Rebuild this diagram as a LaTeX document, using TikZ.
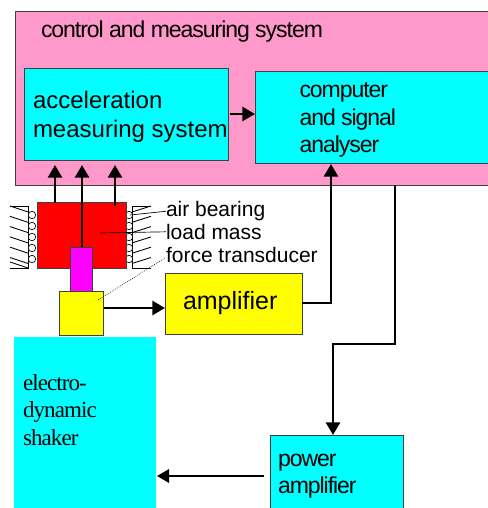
\documentclass[tikz,border=0pt]{standalone}
\usepackage{fontspec}
\setmainfont{Liberation Sans}
\newfontfamily\tightfont[LetterSpace=-4.5]{Liberation Sans}
\newfontfamily\serifface[LetterSpace=-4]{Liberation Serif}
\usetikzlibrary{arrows.meta}
\definecolor{pinkfill}{RGB}{255,153,204}
\definecolor{cyanfill}{RGB}{0,255,255}
\definecolor{yellowfill}{RGB}{255,255,0}
\definecolor{redfill}{RGB}{255,0,0}
\definecolor{magentafill}{RGB}{255,0,255}
\newcommand{\pxfont}[1]{\fontsize{\the\dimexpr #1pt*3/4\relax}{#1pt}\selectfont}
\begin{document}
\begin{tikzpicture}[x=0.75pt,y=-0.75pt,
  blockbox/.style={draw=black!75,line width=0.7pt,anchor=north west,inner sep=0pt,outer sep=0pt},
  flat/.style={anchor=north west,inner sep=0pt,outer sep=0pt},
  lab/.style={anchor=base west,inner sep=0pt,outer sep=0pt,align=left,text=black},
  arr/.style={line width=2.1pt,draw=black,-{Triangle[length=9.5pt,width=10.5pt]}},
  arrthin/.style={line width=1.7pt,draw=black,-{Triangle[length=9pt,width=10pt]}},
  leader/.style={line width=0.5pt,draw=black},
  hatch/.style={line width=0.65pt,draw=black},
  roller/.style={circle,draw=black,line width=0.5pt,fill=white,minimum size=5.6pt,inner sep=0pt}]
\useasboundingbox (0,0) rectangle (488,508);
\fill[white] (0,0) rectangle (488,508);

% main blocks
\node[blockbox,fill=pinkfill,minimum width=473*0.75pt,minimum height=174*0.75pt] (ctrl) at (15,11) {};
\node[blockbox,fill=cyanfill,minimum width=204*0.75pt,minimum height=92*0.75pt] (acc) at (24,68) {};
\node[blockbox,fill=cyanfill,minimum width=233*0.75pt,minimum height=92*0.75pt] (comp) at (255,71) {};
\node[flat,fill=cyanfill,minimum width=142*0.75pt,minimum height=171*0.75pt] (shaker) at (14,337) {};
\node[blockbox,fill=cyanfill,minimum width=133*0.75pt,minimum height=73*0.75pt] (pamp) at (270,435) {};

% bearings
\foreach \yy in {206,216.3,226.6,236.9,247.2,257.5} {
  \draw[hatch] (10,\yy) -- (28,\yy+6);
  \draw[hatch] (132,\yy+6) -- (151,\yy);
}
\draw[hatch] (10,262) -- (28,268);
\draw[hatch] (10,206) -- (28,206) -- (28,268) -- (10,268);
\draw[hatch] (151,206) -- (132,206) -- (132,268) -- (151,268);
\foreach \yy in {215,226,237,248,259} {
  \node[roller] at (32,\yy) {};
  \node[roller] at (129,\yy) {};
}

\node[blockbox,fill=redfill,minimum width=89*0.75pt,minimum height=66*0.75pt] (mass) at (37,202.5) {};
\node[blockbox,fill=magentafill,minimum width=22*0.75pt,minimum height=44*0.75pt] (trans) at (70,247) {};
\node[blockbox,fill=yellowfill,minimum width=44*0.75pt,minimum height=44*0.75pt] (head) at (59,291) {};
\node[blockbox,fill=yellowfill,minimum width=137*0.75pt,minimum height=61*0.75pt] (amp) at (165,273) {};

% labels
\node[lab,font=\tightfont\pxfont{23}] (tctrl) at (41,37.7) {control and measuring system};
\node[lab,font=\pxfont{24}] (tacc1) at (33,108.7) {acceleration};
\node[lab,font=\pxfont{24}] (tacc2) at (33,137) {measuring system};
\node[lab,font=\tightfont\pxfont{23}] (tcomp1) at (299.5,97.7) {computer};
\node[lab,font=\tightfont\pxfont{23}] (tcomp2) at (299.5,125.7) {and signal};
\node[lab,font=\tightfont\pxfont{23}] (tcomp3) at (299.5,152.7) {analyser};
\node[lab,font=\pxfont{21}] (tair) at (166,216.7) {air bearing};
\node[lab,font=\pxfont{21}] (tload) at (166,239.3) {load mass};
\node[lab,font=\pxfont{21}] (tforce) at (166,262.7) {force transducer};
\node[lab,font=\pxfont{25}] (tamp) at (183,309.3) {amplifier};
\node[lab,font=\serifface\pxfont{23}] (ts1) at (23,390) {electro-};
\node[lab,font=\serifface\pxfont{23}] (ts2) at (23,417.3) {dynamic};
\node[lab,font=\serifface\pxfont{23}] (ts3) at (23,445) {shaker};
\node[lab,font=\tightfont\pxfont{23}] (tp1) at (278,466) {power};
\node[lab,font=\tightfont\pxfont{23}] (tp2) at (278,493.3) {amplifier};

% free ends
\coordinate (m1) at (55,202.5);
\coordinate (a1) at (55,165);
\coordinate (m2) at (82,247);
\coordinate (a2) at (82,165);
\coordinate (m3) at (115,206);
\coordinate (a3) at (115,165);
\coordinate (p1) at (395,185);
\coordinate (p2) at (395,344);
\coordinate (p3) at (333,344);
\coordinate (c1) at (331,303);
\coordinate (c2) at (331,164);
\coordinate (sh) at (157,476);
\coordinate (pl) at (264,476);
\coordinate (hr) at (104,308);
\coordinate (ar) at (165,308);
\coordinate (al) at (230,114);
\coordinate (cl) at (255,114);

% connectors
\draw[arr] (m1) -- (a1);
\draw[arr] (m2) -- (a2);
\draw[arr] (m3) -- (a3);
\draw[arr] (al) -- (cl);
\draw[arr] (hr) -- (ar);
\draw[arr] (amp.east |- c1) -- (c1) -- (c2);
\draw[arr] (p1) -- (p2) -- (p3) -- (p3 |- pamp.north);
\draw[arrthin] (pl) -- (sh);

% leaders
\coordinate (e1) at (130,215);
\coordinate (e2) at (100,233);
\coordinate (e3) at (98,300);
\coordinate (f1) at (165,258);
\draw[leader] (tair.west) -- (e1);
\draw[leader] (tload.west) -- (e2);
\draw[leader,densely dotted] (f1) -- (e3);
\end{tikzpicture}
\end{document}
